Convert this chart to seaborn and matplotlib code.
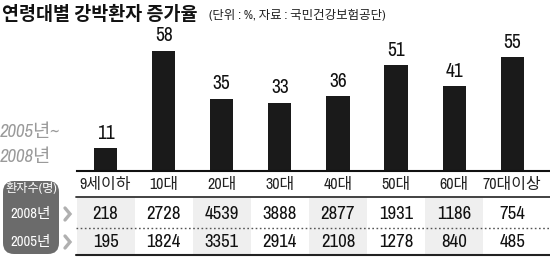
import matplotlib
matplotlib.use("Agg")
import matplotlib.pyplot as plt
import matplotlib.transforms as mtransforms
from matplotlib.patches import FancyBboxPatch, Rectangle
from matplotlib.lines import Line2D
import seaborn as sns
import pandas as pd

categories = ["9세이하", "10대", "20대", "30대", "40대", "50대", "60대", "70대이상"]
growth = [11, 58, 35, 33, 36, 51, 41, 55]
patients_2008 = [218, 2728, 4539, 3888, 2877, 1931, 1186, 754]
patients_2005 = [195, 1824, 3351, 2914, 2108, 1278, 840, 485]
row_labels = ["환자수(명)", "2008년", "2005년"]
title = "연령대별 강박환자 증가율"
subtitle = "(단위 : %, 자료 : 국민건강보험공단)"
period_lines = ["2005년~", "2008년"]

sns.set_style("white")
FAM = ["Archivo Narrow", "Noto Sans CJK KR", "DejaVu Sans"]
KFAM = ["Noto Sans CJK KR", "DejaVu Sans"]
plt.rcParams["font.family"] = FAM

W, H = 550, 257
fig = plt.figure(figsize=(W / 100, H / 100), dpi=100)

def fy(py):
    return 1 - py / H

def fx(px):
    return px / W

# bar axes
x0_px, x1_px = 76.5, 550
base_px = 171
ymax = 70
px_per_unit = 2.07
top_px = base_px - ymax * px_per_unit
ax = fig.add_axes([fx(x0_px), fy(base_px), fx(x1_px - x0_px), (base_px - top_px) / H])
df = pd.DataFrame({"cat": categories, "val": growth})
sns.barplot(data=df, x="cat", y="val", ax=ax, color="#1a1a1a", width=0.4,
            saturation=1, edgecolor="none")
ax.set_xlim(-0.5, 7.65)
ax.set_ylim(0, ymax)
for c in ax.containers:
    ax.bar_label(c, labels=[str(v) for v in growth], padding=4, fontsize=14,
                 color="#111111")
ax.set_xlabel("")
ax.set_ylabel("")
ax.set_yticks([])
ax.set_xticks(range(len(categories)))
ax.set_xticklabels(categories, fontsize=11.5, color="#222222")
ax.tick_params(axis="x", length=0, pad=4)
for s in ["top", "right", "left"]:
    ax.spines[s].set_visible(False)
ax.spines["bottom"].set_color("#111111")
ax.spines["bottom"].set_linewidth(1.5)
ax.patch.set_alpha(0)

bt = mtransforms.blended_transform_factory(ax.transData, fig.transFigure)

# column shading
for i in range(0, len(categories), 2):
    r = Rectangle((i - 0.5, fy(254.5)), 1.0, (254.5 - 198) / H, transform=bt,
                  facecolor="#efefef", edgecolor="none", zorder=0)
    fig.add_artist(r)

# table lines
fig.add_artist(Line2D([fx(76), 1], [fy(197), fy(197)], color="#333333", lw=1.3))
fig.add_artist(Line2D([fx(76), 1], [fy(228), fy(228)], color="#555555", lw=1.0,
                      linestyle=(0, (1.2, 1.8))))
fig.add_artist(Line2D([fx(76), 1], [fy(255), fy(255)], color="#222222", lw=1.5))

# table numbers
for i, (a, b) in enumerate(zip(patients_2008, patients_2005)):
    fig.text(i, fy(214), str(a), transform=bt, ha="center", va="center",
             fontsize=13.5, color="#111111")
    fig.text(i, fy(242), str(b), transform=bt, ha="center", va="center",
             fontsize=13.5, color="#111111")

# left label box
box = FancyBboxPatch((fx(3), fy(254)), fx(56), (254 - 181) / H,
                     boxstyle="round,pad=0,rounding_size=0.02",
                     transform=fig.transFigure, facecolor="#6b6b6b",
                     edgecolor="none", mutation_aspect=W / H)
fig.add_artist(box)
for lab, py, fs in zip(row_labels, [188, 214, 242], [8.8, 10.5, 10.5]):
    fig.text(fx(31), fy(py), lab, ha="center", va="center", fontsize=fs,
             color="white")

# chevrons
for py in [214, 242]:
    fig.add_artist(Line2D([fx(65), fx(70), fx(65)], [fy(py - 6), fy(py), fy(py + 6)],
                          color="#b0b0b0", lw=2.4, solid_joinstyle="miter"))

# titles
fig.text(fx(2), fy(14), title, ha="left", va="center", fontsize=13.3,
         fontweight="heavy", color="#111111", family=KFAM)
fig.text(fx(209), fy(15), subtitle, ha="left", va="center", fontsize=9,
         color="#222222")

# period text
for txt, py in zip(period_lines, [132, 157]):
    fig.text(fx(0), fy(py), txt, ha="left", va="center", fontsize=13.5,
             style="italic", color="#9a9a9a")

fig.savefig("out.png", dpi=100)
